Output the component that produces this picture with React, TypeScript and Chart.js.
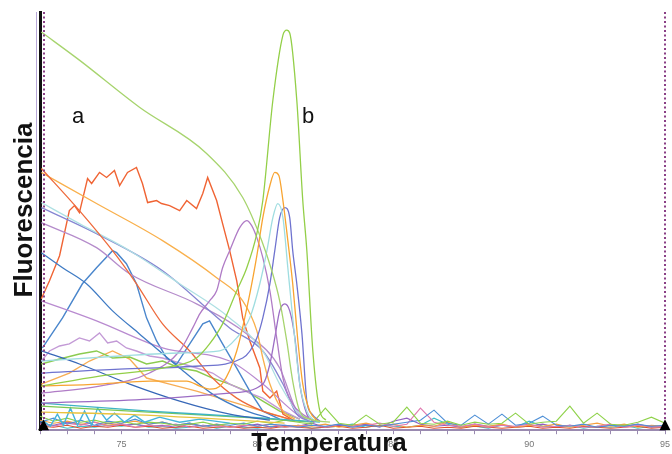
import React, { useEffect, useRef } from 'react';
import { Chart, registerables } from 'chart.js';
Chart.register(...registerables);

// Temperature grid for baseline noise traces
const gridT = [72, 72.5, 73, 73.5, 74, 74.5, 75, 75.5, 76, 76.5, 77, 77.5, 78, 78.5, 79, 79.5, 80, 80.5, 81, 81.5, 82, 82.5, 83, 83.5, 84, 84.5, 85, 85.5, 86, 86.5, 87, 87.5, 88, 88.5, 89, 89.5, 90, 90.5, 91, 91.5, 92, 92.5, 93, 93.5, 94, 94.5, 95];
const noiseGreen = [14, 9, 12, 8, 10, 7, 9, 6, 8, 7, 5, 6, 8, 5, 7, 6, 9, 7, 10, 8, 6, 22, 7, 5, 15, 6, 8, 23, 7, 6, 9, 5, 8, 6, 7, 17, 6, 8, 9, 24, 7, 17, 6, 5, 8, 13, 7];
const noiseBlue = [8, 12, 6, 10, 5, 9, 7, 11, 6, 8, 5, 7, 4, 6, 5, 7, 4, 6, 5, 3, 5, 4, 6, 3, 5, 4, 6, 8, 10, 20, 7, 5, 15, 6, 16, 5, 7, 14, 5, 4, 6, 3, 5, 4, 6, 4, 5];
const noisePink = [6, 4, 7, 5, 8, 4, 6, 3, 5, 4, 6, 3, 5, 4, 3, 5, 4, 6, 3, 4, 5, 3, 6, 4, 5, 7, 4, 6, 22, 8, 5, 4, 6, 3, 5, 4, 6, 3, 4, 5, 3, 4, 6, 3, 5, 4, 3];
const noiseOrange = [10, 7, 9, 6, 8, 5, 7, 9, 6, 8, 5, 7, 4, 6, 3, 5, 4, 6, 3, 5, 4, 6, 3, 5, 7, 4, 6, 3, 5, 4, 8, 3, 5, 4, 6, 3, 5, 4, 6, 3, 5, 7, 4, 6, 3, 5, 4];
const noiseRed = [4, 3, 5, 2, 4, 3, 5, 3, 4, 2, 3, 4, 2, 3, 4, 2, 3, 2, 4, 3, 2, 3, 4, 2, 3, 5, 2, 3, 4, 2, 3, 2, 4, 3, 2, 3, 4, 2, 3, 2, 4, 3, 2, 3, 4, 2, 3];
const noisePurple = [7, 5, 8, 6, 4, 7, 5, 6, 4, 5, 3, 6, 4, 5, 3, 4, 6, 3, 5, 4, 7, 3, 5, 4, 6, 3, 9, 12, 6, 4, 5, 3, 6, 4, 5, 3, 4, 6, 3, 5, 4, 3, 5, 4, 6, 3, 4];
const noiseTeal = [3, 5, 2, 4, 3, 5, 4, 6, 3, 4, 2, 3, 5, 2, 4, 3, 2, 4, 3, 5, 2, 3, 4, 6, 3, 5, 4, 3, 5, 12, 6, 3, 4, 2, 5, 3, 9, 4, 3, 5, 2, 4, 3, 5, 2, 4, 3];

// Individual melt traces (temperature, fluorescence)
const greenFallT = [72.05, 73.45, 75.66, 78.13, 79.46, 80.16, 80.53, 80.82, 81.08, 81.3, 81.56, 81.93, 82.67];
const greenFallF = [397, 369, 322, 276, 232, 189, 159, 129, 89, 49, 19, 11, 8];
const greenPeakT = [72.05, 74.19, 76.51, 77.76, 78.24, 78.72, 79.24, 79.61, 79.98, 80.2, 80.57, 80.94, 81.08, 81.19, 81.45, 81.67, 81.82, 82.04, 82.3, 82.52];
const greenPeakF = [44, 54, 62, 72, 86, 106, 139, 162, 196, 229, 329, 394, 399, 396, 329, 229, 179, 79, 19, 10];
const orangePeakT = [72.05, 74.19, 76.03, 77.4, 77.88, 78.24, 78.72, 79.24, 79.72, 79.98, 80.2, 80.46, 80.64, 80.79, 80.94, 81.12, 81.3, 81.49, 81.67, 81.93, 82.22];
const orangePeakF = [44, 46, 49, 49, 44, 41, 47, 79, 136, 174, 212, 244, 257, 254, 229, 189, 146, 89, 46, 19, 9];
const cyanPeakT = [72.05, 74.93, 77.14, 78.61, 79.24, 79.72, 80.09, 80.35, 80.57, 80.75, 80.94, 81.12, 81.3, 81.56, 81.82, 82.11];
const cyanPeakF = [69, 74, 77, 79, 92, 112, 146, 179, 212, 226, 212, 162, 112, 46, 19, 9];
const bluePeakT = [72.05, 74.93, 77.88, 79.46, 79.98, 80.2, 80.46, 80.64, 80.82, 81.01, 81.19, 81.3, 81.45, 81.64, 81.82, 82.01, 82.3];
const bluePeakF = [57, 61, 64, 72, 92, 112, 146, 179, 212, 222, 212, 179, 146, 96, 29, 16, 9];
const purplePeak1T = [72.05, 74.19, 76.03, 77.14, 77.62, 77.88, 78.24, 78.5, 78.72, 78.98, 79.35, 79.61, 79.79, 79.98, 80.2, 80.46, 80.71, 80.94, 81.3, 81.67, 82.11];
const purplePeak1F = [37, 44, 57, 79, 102, 116, 129, 139, 162, 179, 202, 209, 204, 192, 172, 139, 92, 52, 26, 16, 9];
const purplePeak2T = [72.05, 76.03, 78.98, 80.2, 80.46, 80.64, 80.82, 81.01, 81.19, 81.38, 81.56, 81.82, 82.11];
const purplePeak2F = [27, 31, 37, 46, 66, 92, 119, 126, 119, 92, 46, 16, 8];
const redAT = [72.05, 72.35, 72.72, 73.08, 73.27, 73.45, 73.75, 73.9, 74.19, 74.45, 74.74, 74.93, 75.22, 75.55, 75.77, 75.96, 76.29, 76.47, 76.77, 77.14, 77.4, 77.76, 77.99, 78.17, 78.5, 78.72, 78.98, 79.24, 79.46, 79.72, 80.09, 80.2, 80.46, 80.71, 80.94, 81.38];
const redAF = [131, 149, 174, 219, 224, 217, 251, 246, 257, 252, 259, 244, 257, 262, 246, 227, 229, 226, 224, 219, 229, 221, 236, 252, 229, 206, 179, 149, 112, 89, 62, 39, 32, 39, 16, 9];
const redFallT = [72.05, 73.45, 74.67, 75.55, 76.51, 77.51, 78.35, 79.24, 80.2, 81.19];
const redFallF = [261, 219, 179, 146, 106, 79, 52, 32, 19, 11];
const orangeFallT = [72.05, 74.08, 76.51, 78.5, 79.46, 79.98, 80.2, 80.46, 80.94, 81.38];
const orangeFallF = [257, 226, 189, 152, 129, 99, 72, 46, 19, 11];
const cyanFallT = [72.05, 73.45, 75.3, 77.14, 78.98, 80.2, 80.82, 81.45, 81.93];
const cyanFallF = [227, 206, 179, 146, 112, 79, 46, 19, 10];
const violetFallT = [72.05, 74.08, 76.51, 78.98, 80.2, 80.94, 81.45, 81.93];
const violetFallF = [222, 196, 159, 102, 79, 46, 16, 9];
const purpleFallT = [72.05, 74.08, 75.3, 77.76, 79.61, 80.82, 81.45, 81.93];
const purpleFallF = [207, 182, 156, 126, 96, 62, 19, 9];
const blueFallT = [72.05, 72.83, 73.71, 74.67, 75.66, 77.14, 78.35, 79.61, 80.46];
const blueFallF = [177, 162, 146, 119, 96, 62, 36, 19, 12];
const blueHumpT = [72.09, 72.83, 73.56, 74.08, 74.67, 74.82, 75.18, 75.55, 75.92, 76.29, 76.66, 77.03, 77.51, 77.99, 78.24, 78.72, 79.24, 79.72, 80.2, 80.82];
const blueHumpF = [82, 112, 146, 162, 179, 177, 166, 146, 112, 89, 72, 66, 86, 106, 109, 86, 62, 39, 19, 11];
const purpleFall2T = [72.05, 74.08, 76.51, 78.98, 80.2, 81.45, 81.93];
const purpleFall2F = [129, 109, 82, 69, 46, 16, 9];
const purpleJagT = [72.05, 72.35, 72.72, 73.08, 73.45, 73.82, 74.19, 74.49, 74.82, 75.18, 75.55, 76.03, 76.51, 77.14, 77.76, 78.35, 78.98, 79.72, 80.2, 80.82, 81.56];
const purpleJagF = [69, 79, 84, 86, 92, 89, 97, 87, 89, 82, 79, 74, 72, 67, 62, 57, 46, 37, 32, 21, 11];
const greenJagT = [72.05, 72.72, 73.45, 74.08, 74.67, 75.3, 75.92, 76.51, 77.14, 77.76, 78.35, 78.98, 79.61, 80.2, 80.82, 81.56];
const greenJagF = [66, 71, 76, 79, 72, 73, 66, 69, 62, 59, 52, 46, 39, 29, 19, 11];
const darkBlueFallT = [72.05, 73.45, 75.3, 77.14, 78.98, 80.46];
const darkBlueFallF = [79, 66, 46, 29, 16, 10];
const orangeHumpT = [72.05, 73.08, 73.82, 74.67, 75.3, 75.92, 76.77, 77.76, 78.98, 80.2, 81.19];
const orangeHumpF = [46, 57, 69, 79, 71, 52, 46, 39, 29, 19, 11];
const tealZigT = [72.13, 72.38, 72.64, 72.86, 73.12, 73.38, 73.64, 73.9, 74.12, 74.45, 74.74, 75.11, 75.48, 75.85, 76.4, 77.14, 77.88, 78.98];
const tealZigF = [9, 4, 16, 5, 22, 5, 19, 5, 22, 10, 17, 8, 15, 8, 13, 8, 11, 7];
const tealFlatT = [72.05, 76.03, 79.72, 82.3];
const tealFlatF = [27, 19, 13, 8];
const greenFlatT = [72.05, 76.0, 80.0, 82.0];
const greenFlatF = [24, 18, 12, 8];
const goldFlatT = [72.05, 75.0, 78.0, 81.0];
const goldFlatF = [18, 16, 12, 7];

const xTitle = 'Temperatura';
const yTitle = 'Fluorescencia';
const markA = 'a';
const markB = 'b';
const cursorLeft = 72.13;
const cursorRight = 95;

function pts(t: number[], f: number[]) {
  return t.map((x, i) => ({ x, y: f[i] }));
}

const smooth = [
  { label: 'greenPeak', t: greenPeakT, f: greenPeakF, c: '#93cf48' },
  { label: 'greenFall', t: greenFallT, f: greenFallF, c: '#a7d46e' },
  { label: 'orangePeak', t: orangePeakT, f: orangePeakF, c: '#f8a431' },
  { label: 'cyanPeak', t: cyanPeakT, f: cyanPeakF, c: '#9fdde0' },
  { label: 'bluePeak', t: bluePeakT, f: bluePeakF, c: '#6f73cf' },
  { label: 'purplePeak1', t: purplePeak1T, f: purplePeak1F, c: '#b07cc6' },
  { label: 'purplePeak2', t: purplePeak2T, f: purplePeak2F, c: '#9b6cc4' },
  { label: 'redFall', t: redFallT, f: redFallF, c: '#ee6a3c' },
  { label: 'orangeFall', t: orangeFallT, f: orangeFallF, c: '#f9b04c' },
  { label: 'cyanFall', t: cyanFallT, f: cyanFallF, c: '#aee0e3' },
  { label: 'violetFall', t: violetFallT, f: violetFallF, c: '#8585d2' },
  { label: 'purpleFall', t: purpleFallT, f: purpleFallF, c: '#b58ccb' },
  { label: 'blueFall', t: blueFallT, f: blueFallF, c: '#3f7bc4' },
  { label: 'purpleFall2', t: purpleFall2T, f: purpleFall2F, c: '#b98bd0' },
  { label: 'darkBlueFall', t: darkBlueFallT, f: darkBlueFallF, c: '#3868b8' },
  { label: 'tealFlat', t: tealFlatT, f: tealFlatF, c: '#3fb4c4' },
  { label: 'greenFlat', t: greenFlatT, f: greenFlatF, c: '#7cc850' },
  { label: 'goldFlat', t: goldFlatT, f: goldFlatF, c: '#e9c23d' },
];
const jagged = [
  { label: 'redA', t: redAT, f: redAF, c: '#f06434' },
  { label: 'blueHump', t: blueHumpT, f: blueHumpF, c: '#4a86cc' },
  { label: 'purpleJag', t: purpleJagT, f: purpleJagF, c: '#c39ad6' },
  { label: 'greenJag', t: greenJagT, f: greenJagF, c: '#8ccb50' },
  { label: 'orangeHump', t: orangeHumpT, f: orangeHumpF, c: '#f7ad55' },
  { label: 'tealZig', t: tealZigT, f: tealZigF, c: '#45b5dc' },
];
const noise = [
  { label: 'nGreen', f: noiseGreen, c: '#8fd24a' },
  { label: 'nBlue', f: noiseBlue, c: '#4d8fd6' },
  { label: 'nPink', f: noisePink, c: '#e07ab0' },
  { label: 'nOrange', f: noiseOrange, c: '#f5a040' },
  { label: 'nRed', f: noiseRed, c: '#e05030' },
  { label: 'nPurple', f: noisePurple, c: '#9060c0' },
  { label: 'nTeal', f: noiseTeal, c: '#40c0c8' },
];

const overlay = {
  id: 'overlay',
  afterDatasetsDraw(chart: any) {
    const { ctx, chartArea } = chart;
    const xs = chart.scales.x;
    ctx.save();
    // lavender rule beside y axis
    ctx.strokeStyle = '#b8a8d8';
    ctx.lineWidth = 1;
    ctx.beginPath();
    ctx.moveTo(chartArea.left - 3.5, chartArea.top);
    ctx.lineTo(chartArea.left - 3.5, chartArea.bottom);
    ctx.stroke();
    // dotted cursors
    ctx.strokeStyle = '#8a3f86';
    ctx.lineWidth = 2;
    ctx.setLineDash([2, 2.5]);
    [cursorLeft, cursorRight].forEach((v) => {
      const px = Math.round(xs.getPixelForValue(v));
      ctx.beginPath();
      ctx.moveTo(px, chartArea.top);
      ctx.lineTo(px, chartArea.bottom);
      ctx.stroke();
    });
    ctx.setLineDash([]);
    ctx.fillStyle = '#000';
    [cursorLeft, cursorRight].forEach((v) => {
      const px = xs.getPixelForValue(v);
      ctx.beginPath();
      ctx.moveTo(px - 5.5, chartArea.bottom);
      ctx.lineTo(px + 5.5, chartArea.bottom);
      ctx.lineTo(px, chartArea.bottom - 11);
      ctx.closePath();
      ctx.fill();
    });
    ctx.restore();
  },
  afterDraw(chart: any) {
    const { ctx } = chart;
    ctx.save();
    ctx.fillStyle = '#111';
    ctx.font = 'bold 26px "Liberation Sans", Arial, sans-serif';
    ctx.textAlign = 'center';
    ctx.textBaseline = 'alphabetic';
    ctx.fillText(xTitle, 329, 451);
    ctx.save();
    ctx.translate(32, 210);
    ctx.rotate(-Math.PI / 2);
    ctx.fillText(yTitle, 0, 0);
    ctx.restore();
    ctx.font = '22px "Liberation Sans", Arial, sans-serif';
    ctx.textAlign = 'left';
    ctx.fillText(markA, 72, 123);
    ctx.fillText(markB, 302, 123);
    ctx.restore();
  },
};

export default function App() {
  const ref = useRef<HTMLCanvasElement | null>(null);
  useEffect(() => {
    if (!ref.current) return;
    const datasets: any[] = [];
    smooth.forEach((s) =>
      datasets.push({ label: s.label, data: pts(s.t, s.f), borderColor: s.c, borderWidth: 1.3, pointRadius: 0, cubicInterpolationMode: 'monotone', fill: false })
    );
    jagged.forEach((s) =>
      datasets.push({ label: s.label, data: pts(s.t, s.f), borderColor: s.c, borderWidth: 1.4, pointRadius: 0, tension: 0, fill: false })
    );
    noise.forEach((s) =>
      datasets.push({ label: s.label, data: pts(gridT, s.f), borderColor: s.c, borderWidth: 1.1, pointRadius: 0, tension: 0, fill: false })
    );
    const chart = new Chart(ref.current, {
      type: 'line',
      data: { datasets },
      options: {
        animation: false,
        responsive: false,
        events: [],
        layout: { padding: { left: 40, right: 7, top: 12, bottom: -1 } },
        plugins: { legend: { display: false }, tooltip: { enabled: false }, title: { display: false } },
        scales: {
          x: {
            type: 'linear',
            min: 72,
            max: 95,
            afterFit: (scale: any) => {
              scale.paddingRight = 0;
              scale.paddingLeft = 0;
            },
            ticks: {
              stepSize: 1,
              autoSkip: false,
              maxRotation: 0,
              padding: 5,
              color: '#777',
              font: { size: 9, family: '"Liberation Sans", Arial, sans-serif' },
              callback: (v: any) => (Number(v) % 5 === 0 ? String(v) : ''),
            },
            grid: { display: true, drawOnChartArea: false, drawTicks: true, tickLength: 4, color: '#9a8ab0', tickColor: '#9a8ab0' },
            border: { display: true, color: '#9a8ab0', width: 2 },
          },
          y: {
            type: 'linear',
            min: 0,
            max: 417,
            ticks: { display: false },
            grid: { display: false, drawTicks: false },
            border: { display: true, color: '#111', width: 3, dash: [12, 4] },
          },
        },
      },
      plugins: [overlay],
    });
    return () => chart.destroy();
  }, []);
  return (
    <div style={{ position: 'fixed', left: 0, top: 0, width: 672, height: 454, background: '#fff' }}>
      <canvas ref={ref} width={672} height={454} style={{ display: 'block' }} />
    </div>
  );
}
